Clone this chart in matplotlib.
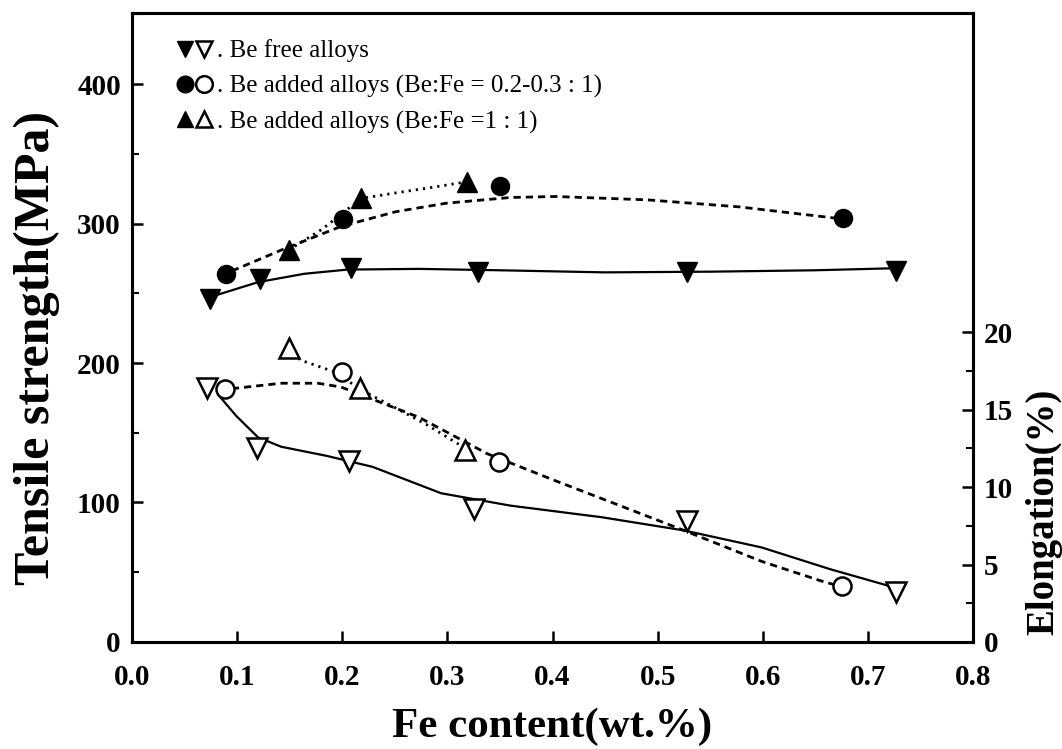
import numpy as np
import matplotlib
matplotlib.use("Agg")
import matplotlib.pyplot as plt
from matplotlib.lines import Line2D
from matplotlib.legend_handler import HandlerTuple
from matplotlib.ticker import MultipleLocator, FixedLocator

plt.rcParams['font.family'] = ['Liberation Serif', 'DejaVu Serif']

# tensile strength (MPa), filled markers
fe_free_ts = [0.074, 0.122, 0.208, 0.329, 0.528, 0.727]
ts_free = [246, 260, 268, 265, 265, 266]
fe_low_ts = [0.089, 0.201, 0.350, 0.676]
ts_low = [264, 303, 327, 304]
fe_eq_ts = [0.149, 0.218, 0.319]
ts_eq = [281, 318, 330]

# elongation (%), open markers
fe_free_el = [0.071, 0.119, 0.206, 0.325, 0.528, 0.727]
el_free = [16.4, 12.5, 11.7, 8.6, 7.8, 3.2]
fe_low_el = [0.088, 0.200, 0.349, 0.675]
el_low = [16.3, 17.4, 11.6, 3.6]
fe_eq_el = [0.149, 0.217, 0.317]
el_eq = [19.0, 16.4, 12.4]

# hand-drawn trend curves
fit_free_ts_x = [0.073, 0.12, 0.164, 0.205, 0.273, 0.35, 0.45, 0.55, 0.65, 0.727]
fit_free_ts_y = [247, 258, 264, 267, 267.5, 266.5, 265, 265.5, 266.5, 268]
fit_low_ts_x = [0.095, 0.142, 0.199, 0.251, 0.299, 0.36, 0.403, 0.49, 0.577, 0.668]
fit_low_ts_y = [266, 281, 298, 308.5, 314.6, 318.7, 319.4, 317, 312, 304]
fit_eq_ts_x = [0.149, 0.181, 0.218, 0.251, 0.286, 0.319]
fit_eq_ts_y = [281, 296, 318, 322, 326, 330]

fit_free_el_x = [0.084, 0.099, 0.12, 0.142, 0.186, 0.229, 0.294, 0.36, 0.447, 0.525, 0.599, 0.664, 0.721]
fit_free_el_y = [15.8, 14.6, 13.2, 12.6, 12.0, 11.3, 9.6, 8.8, 8.05, 7.2, 6.1, 4.7, 3.6]
fit_low_el_x = [0.095, 0.142, 0.177, 0.199, 0.22, 0.273, 0.338, 0.403, 0.468, 0.525, 0.599, 0.655, 0.668]
fit_low_el_y = [16.35, 16.7, 16.7, 16.45, 15.9, 14.5, 12.15, 10.4, 8.7, 7.2, 5.2, 3.95, 3.7]
fit_eq_el_x = [0.149, 0.16, 0.194, 0.217, 0.251, 0.281, 0.317]
fit_eq_el_y = [19.0, 18.2, 17.4, 16.3, 15.1, 14.0, 12.5]

x_ticks = [0.0, 0.1, 0.2, 0.3, 0.4, 0.5, 0.6, 0.7, 0.8]
ts_ticks = [0, 100, 200, 300, 400]
el_ticks = [0, 5, 10, 15, 20]

legend_labels = ['. Be free alloys',
                 '. Be added alloys (Be:Fe = 0.2-0.3 : 1)',
                 '. Be added alloys (Be:Fe =1 : 1)']

fig = plt.figure(figsize=(10.62, 7.49), dpi=100)
ax = fig.add_axes([0.1243, 0.1429, 0.7919, 0.8398])
ax2 = ax.twinx()

solid = dict(color='black', linestyle='-', linewidth=1.6, zorder=2)
dashed = dict(color='black', linestyle=(0, (2.6, 1.8)), linewidth=2.0, zorder=2)
dotted = dict(color='black', linestyle=(0, (0.8, 1.8)), linewidth=2.0, zorder=2)
msz_tri = 14
msz_circ = 13
open_kw = dict(markerfacecolor='white', markeredgecolor='black', markeredgewidth=1.8)

# strength
ax.plot(fit_free_ts_x, fit_free_ts_y, **solid)
ax.plot(fit_low_ts_x, fit_low_ts_y, **dashed)
ax.plot(fit_eq_ts_x, fit_eq_ts_y, **dotted)
ax.plot(fe_free_ts, ts_free, 'v', color='black', markersize=msz_tri, linestyle='none', zorder=3)
ax.plot(fe_low_ts, ts_low, 'o', color='black', markersize=msz_circ, linestyle='none', zorder=3)
ax.plot(fe_eq_ts, ts_eq, '^', color='black', markersize=msz_tri, linestyle='none', zorder=3)

# elongation
ax2.plot(fit_free_el_x, fit_free_el_y, **solid)
ax2.plot(fit_low_el_x, fit_low_el_y, **dashed)
ax2.plot(fit_eq_el_x, fit_eq_el_y, **dotted)
ax2.plot(fe_free_el, el_free, 'v', markersize=msz_tri, linestyle='none', zorder=3, **open_kw)
ax2.plot(fe_low_el, el_low, 'o', markersize=msz_circ, linestyle='none', zorder=3, **open_kw)
ax2.plot(fe_eq_el, el_eq, '^', markersize=msz_tri, linestyle='none', zorder=3, **open_kw)

ax.set_xlim(0, 0.8)
ax.set_ylim(0, 451)
ax2.set_ylim(0, 40.6)

ax.set_xticks(x_ticks)
ax.set_xticklabels([f'{t:.1f}' for t in x_ticks])
ax.set_yticks(ts_ticks)
ax.yaxis.set_minor_locator(MultipleLocator(50))
ax2.set_yticks(el_ticks)
ax2.yaxis.set_minor_locator(FixedLocator([2.5, 7.5, 12.5, 17.5]))

for lab in ax.get_xticklabels() + ax.get_yticklabels() + ax2.get_yticklabels():
    lab.set_fontsize(21)
    lab.set_fontweight('bold')

ax.tick_params(axis='both', which='major', direction='in', length=8, width=1.8)
ax.tick_params(axis='y', which='minor', direction='in', length=5, width=1.5)
ax.tick_params(axis='x', pad=16)
ax.tick_params(axis='y', pad=8, right=False)
ax2.tick_params(axis='y', which='major', direction='in', length=8, width=1.8, pad=8)
ax2.tick_params(axis='y', which='minor', direction='in', length=5, width=1.5)

for a in (ax, ax2):
    for s in a.spines.values():
        s.set_linewidth(2.2)

ax.set_xlabel('Fe content(wt.%)', fontsize=31, fontweight='bold')
ax.xaxis.set_label_coords(0.5, -0.105)
ax.set_ylabel('Tensile strength(MPa)', fontsize=36, fontweight='bold')
ax.yaxis.set_label_coords(-0.086, 0.467)
ax2.set_ylabel('Elongation(%)', fontsize=28, fontweight='bold')
ax2.yaxis.set_label_coords(1.062, 0.207)

# legend: filled/open marker pairs
def pair(m, ms):
    filled = Line2D([], [], marker=m, color='black', markersize=ms, linestyle='none')
    hollow = Line2D([], [], marker=m, markersize=ms, linestyle='none', **open_kw)
    return (filled, hollow)

handles = [pair('v', 11), pair('o', 12), pair('^', 11)]
ax.legend(handles, legend_labels, handler_map={tuple: HandlerTuple(ndivide=None, pad=0)},
          loc='upper left', bbox_to_anchor=(0.052, 0.958), frameon=False,
          fontsize=18, handlelength=1.5, handletextpad=0.15, labelspacing=0.5,
          borderpad=0, borderaxespad=0)

fig.savefig('out.png', dpi=100)
